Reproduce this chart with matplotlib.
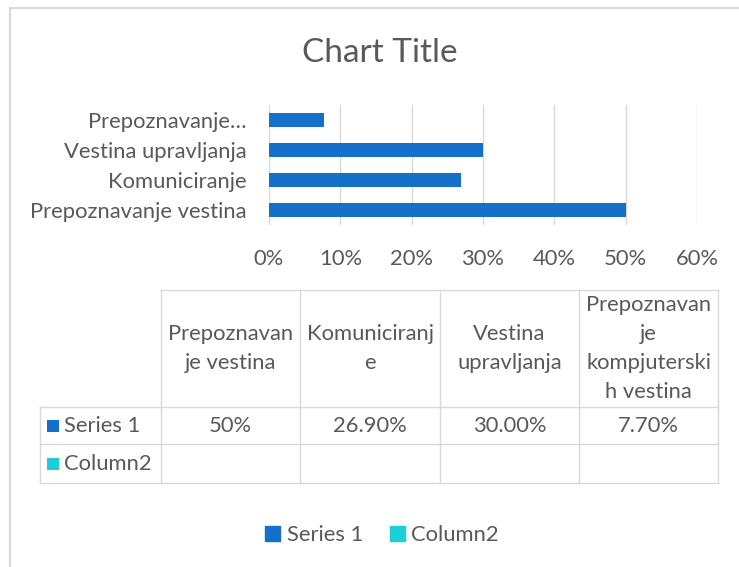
import matplotlib
matplotlib.use("Agg")
import matplotlib.pyplot as plt
from matplotlib.lines import Line2D
from matplotlib.patches import Rectangle

plt.rcParams['font.family'] = ['Lato', 'DejaVu Sans']

# ---- data ----
categories = ["Prepoznavanje vestina", "Komuniciranje", "Vestina upravljanja",
              "Prepoznavanje kompjuterskih vestina"]
axis_labels = ["Prepoznavanje vestina", "Komuniciranje", "Vestina upravljanja",
               "Prepoznavanje…"]
table_headers = ["Prepoznavan\nje vestina", "Komuniciranj\ne", "Vestina\nupravljanja",
                 "Prepoznavan\nje\nkompjuterski\nh vestina"]
series1 = [0.50, 0.269, 0.30, 0.077]
series1_labels = ["50%", "26.90%", "30.00%", "7.70%"]
series_names = ["Series 1", "Column2"]
x_ticks = [0, 0.1, 0.2, 0.3, 0.4, 0.5, 0.6]
x_tick_labels = ["0%", "10%", "20%", "30%", "40%", "50%", "60%"]
title = "Chart Title"

W, H = 739, 567
TXT = "#595959"
GRID = "#d9d9d9"
C1 = "#1470c8"
C2 = "#1ccfd6"
FS = 15.8

fig = plt.figure(figsize=(W / 100, H / 100), dpi=100)

def fx(px):
    return px / W

def fy(py):
    return 1 - py / H

# chart border
fig.add_artist(Line2D([fx(9.5), fx(738)], [fy(7.5), fy(7.5)], color=GRID, lw=1.5))
fig.add_artist(Line2D([fx(9.5), fx(9.5)], [fy(7.5), fy(567)], color=GRID, lw=1.5))

# title
fig.text(fx(380), fy(53), title, ha="center", va="center", fontsize=24, color=TXT)

# bar axes
ax = fig.add_axes([fx(269), fy(225), fx(697) - fx(269), (225 - 105) / H])
ypos = list(range(len(categories)))
ax.barh(ypos, series1, height=0.45, color=C1, zorder=3)
ax.set_xlim(0, 0.6)
ax.set_ylim(-0.5, len(categories) - 0.5)
ax.set_xticks(x_ticks)
ax.set_xticklabels(x_tick_labels)
ax.set_yticks(ypos)
ax.set_yticklabels(axis_labels)
ax.tick_params(axis="x", length=0, pad=17, labelsize=FS, labelcolor=TXT)
ax.tick_params(axis="y", length=0, pad=16, labelsize=FS, labelcolor=TXT)
ax.grid(axis="x", color=GRID, lw=1, zorder=0)
for s in ax.spines.values():
    s.set_visible(False)

# data table
col_x = [40, 161, 300, 440, 579, 718]
row_y = [290, 407, 444, 483]
lw = 1.0
fig.add_artist(Line2D([fx(col_x[1]), fx(col_x[-1])], [fy(row_y[0])] * 2, color=GRID, lw=lw))
for ry in row_y[1:]:
    fig.add_artist(Line2D([fx(col_x[0]), fx(col_x[-1])], [fy(ry)] * 2, color=GRID, lw=lw))
fig.add_artist(Line2D([fx(col_x[0])] * 2, [fy(row_y[1]), fy(row_y[-1])], color=GRID, lw=lw))
for cx in col_x[1:]:
    fig.add_artist(Line2D([fx(cx)] * 2, [fy(row_y[0]), fy(row_y[-1])], color=GRID, lw=lw))

for i, h in enumerate(table_headers):
    cxm = (col_x[i + 1] + col_x[i + 2]) / 2
    fig.text(fx(cxm), fy((row_y[0] + row_y[1]) / 2), h, ha="center", va="center",
             fontsize=FS, color=TXT, linespacing=1.55)
for i, lab in enumerate(series1_labels):
    cxm = (col_x[i + 1] + col_x[i + 2]) / 2
    fig.text(fx(cxm), fy((row_y[1] + row_y[2]) / 2), lab, ha="center", va="center",
             fontsize=FS, color=TXT)

for k, (name, col) in enumerate(zip(series_names, [C1, C2])):
    ymid = (row_y[1 + k] + row_y[2 + k]) / 2
    fig.add_artist(Rectangle((fx(47), fy(ymid + 6)), 12 / W, 12 / H, color=col, lw=0))
    fig.text(fx(64), fy(ymid), name, ha="left", va="center", fontsize=FS, color=TXT)

# legend
fig.legend(handles=[Rectangle((0, 0), 1, 1, color=C1), Rectangle((0, 0), 1, 1, color=C2)],
           labels=series_names, loc="center", bbox_to_anchor=(fx(382), fy(535)),
           ncol=2, frameon=False, fontsize=FS, labelcolor=TXT,
           handlelength=0.7, handleheight=0.7, handletextpad=0.3, columnspacing=1.2)

fig.savefig("out.png", dpi=100, facecolor="white")
